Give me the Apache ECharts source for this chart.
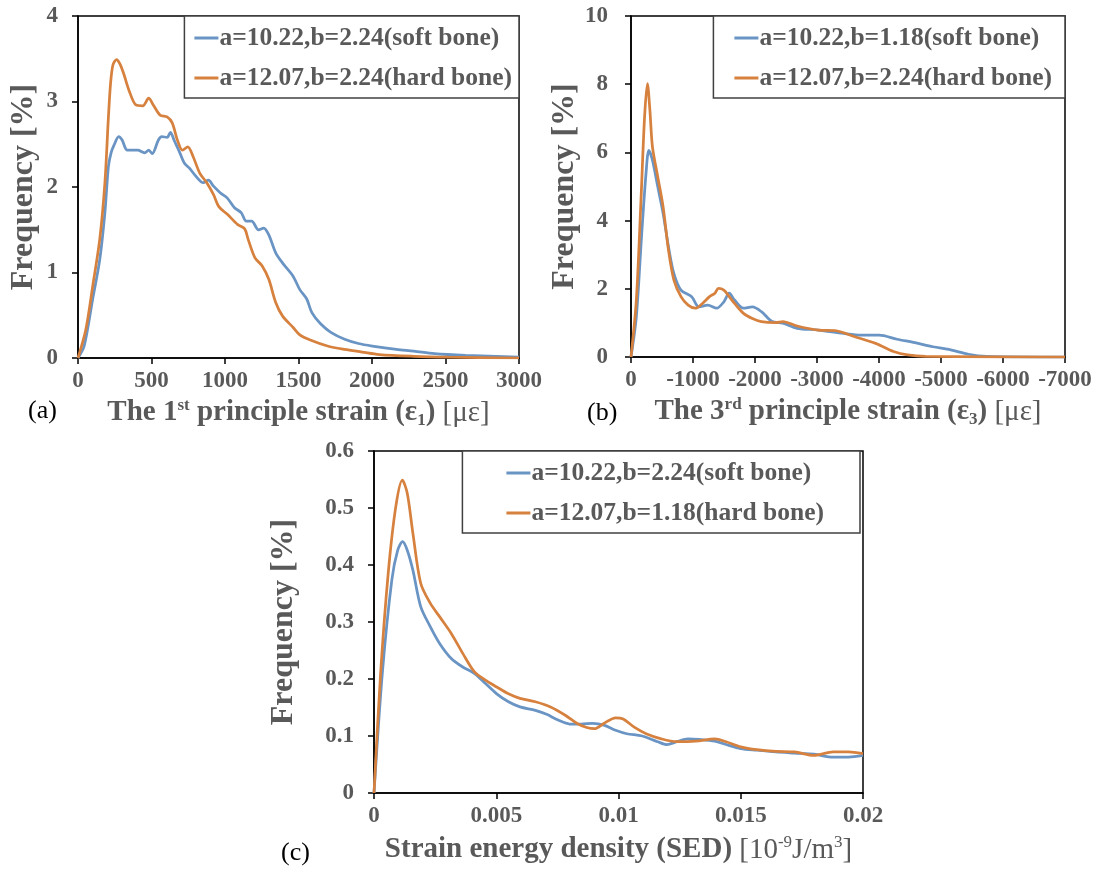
<!DOCTYPE html>
<html>
<head>
<meta charset="utf-8">
<script src="https://cdn.jsdelivr.net/npm/echarts@6/dist/echarts.min.js"></script>
<style>
  html, body { margin: 0; padding: 0; background: #fff; }
  #chart { width: 1099px; height: 871px; }
</style>
</head>
<body>
<div id="chart"></div>
<script>
// legend names
const namesA = ['a=10.22,b=2.24(soft bone)', 'a=12.07,b=2.24(hard bone)'];
const namesB = ['a=10.22,b=1.18(soft bone)', 'a=12.07,b=2.24(hard bone)'];
const namesC = ['a=10.22,b=2.24(soft bone)', 'a=12.07,b=1.18(hard bone)'];

// (a) 1st principle strain [με] vs frequency [%]
const softA = [[0,0],[42,0.14],[100,0.69],[148,1.15],[183,1.70],[207,2.24],[225,2.40],[245,2.49],[277,2.59],[300,2.55],[336,2.43],[406,2.43],[453,2.40],[481,2.43],[505,2.39],[547,2.55],[570,2.59],[606,2.58],[629,2.64],[653,2.55],[688,2.42],[723,2.28],[758,2.22],[805,2.12],[852,2.05],[887,2.08],[922,2.01],[969,1.93],[1016,1.87],[1063,1.76],[1110,1.70],[1145,1.60],[1181,1.60],[1228,1.50],[1263,1.52],[1298,1.44],[1345,1.23],[1392,1.11],[1462,0.96],[1509,0.80],[1556,0.69],[1591,0.53],[1650,0.40],[1720,0.30],[1814,0.22],[1908,0.17],[2002,0.14],[2166,0.10],[2284,0.08],[2425,0.05],[2636,0.03],[3000,0.01]];
const hardA = [[0,0],[54,0.34],[100,0.84],[148,1.39],[183,2.05],[207,2.82],[222,3.22],[238,3.43],[262,3.49],[285,3.44],[310,3.33],[347,3.13],[394,2.96],[441,2.95],[481,3.04],[512,2.96],[559,2.84],[606,2.82],[641,2.75],[676,2.55],[711,2.43],[747,2.47],[782,2.36],[829,2.16],[876,2.05],[922,1.91],[958,1.77],[1016,1.68],[1087,1.56],[1134,1.51],[1157,1.39],[1204,1.17],[1252,1.08],[1298,0.92],[1345,0.65],[1392,0.49],[1462,0.36],[1509,0.27],[1580,0.21],[1697,0.14],[1814,0.10],[1932,0.07],[2049,0.04],[2284,0.02],[2519,0.01],[3000,0]];

// (b) 3rd principle strain [με] vs frequency [%]
const softB = [[0,0],[-86,1.18],[-173,3.62],[-242,5.38],[-288,6.06],[-346,5.77],[-432,4.99],[-518,4.21],[-605,3.23],[-691,2.45],[-806,1.96],[-979,1.77],[-1094,1.47],[-1238,1.52],[-1382,1.43],[-1498,1.62],[-1584,1.87],[-1670,1.67],[-1814,1.43],[-1958,1.47],[-2103,1.33],[-2275,1.04],[-2448,0.99],[-2679,0.84],[-3024,0.79],[-3427,0.69],[-3715,0.64],[-4003,0.64],[-4291,0.52],[-4579,0.42],[-4867,0.30],[-5155,0.21],[-5443,0.08],[-5731,0.02],[-7000,0]];
const hardB = [[0,0],[-86,1.67],[-161,4.60],[-219,7.04],[-265,8.02],[-305,7.23],[-346,6.16],[-432,5.28],[-518,4.40],[-605,3.13],[-691,2.26],[-806,1.77],[-922,1.52],[-1037,1.43],[-1152,1.57],[-1267,1.77],[-1353,1.87],[-1411,2.01],[-1498,1.96],[-1584,1.77],[-1670,1.57],[-1814,1.28],[-1958,1.13],[-2103,1.04],[-2333,1.01],[-2448,1.04],[-2679,0.91],[-3024,0.79],[-3312,0.77],[-3600,0.60],[-3946,0.40],[-4234,0.16],[-4464,0.06],[-4752,0.02],[-7000,0]];

// (c) strain energy density vs frequency [%]
const softC = [[0,0],[0.00034,0.21],[0.00073,0.374],[0.00097,0.426],[0.00117,0.441],[0.00136,0.426],[0.00159,0.391],[0.00191,0.327],[0.0023,0.292],[0.00269,0.262],[0.00316,0.236],[0.00363,0.221],[0.0041,0.210],[0.00456,0.192],[0.00502,0.174],[0.0055,0.160],[0.00597,0.151],[0.0066,0.145],[0.00706,0.138],[0.00753,0.128],[0.008,0.121],[0.00847,0.121],[0.00894,0.122],[0.0094,0.119],[0.00988,0.110],[0.01034,0.104],[0.01097,0.100],[0.0116,0.090],[0.01198,0.085],[0.01238,0.090],[0.01284,0.095],[0.0133,0.094],[0.01394,0.091],[0.0144,0.085],[0.015,0.078],[0.01566,0.075],[0.01644,0.072],[0.0172,0.070],[0.018,0.068],[0.01878,0.063],[0.0194,0.063],[0.02,0.066]];
const hardC = [[0,0],[0.00027,0.21],[0.00058,0.385],[0.00089,0.502],[0.00116,0.549],[0.00136,0.526],[0.00159,0.456],[0.00191,0.368],[0.0023,0.333],[0.00269,0.309],[0.00316,0.280],[0.00363,0.245],[0.0041,0.213],[0.00456,0.198],[0.00502,0.186],[0.0055,0.174],[0.00597,0.166],[0.0066,0.160],[0.00722,0.151],[0.00784,0.136],[0.00831,0.122],[0.0087,0.115],[0.00902,0.113],[0.0094,0.122],[0.00988,0.132],[0.01019,0.130],[0.01066,0.115],[0.01113,0.104],[0.01175,0.095],[0.01238,0.090],[0.01316,0.091],[0.01394,0.095],[0.0144,0.090],[0.015,0.081],[0.01566,0.076],[0.01644,0.073],[0.0172,0.072],[0.018,0.066],[0.01878,0.072],[0.0194,0.072],[0.02,0.069]];

const BLUE = '#6994c3';
const ORANGE = '#d7813f';
const GRAY = '#595959';
const FONT = '"Liberation Serif", "Times New Roman", serif';

const nameRich = {
  sup: {fontSize: 17, fontWeight: 'bold', color: GRAY, fontFamily: FONT, verticalAlign: 'top', lineHeight: 16},
  sub: {fontSize: 17, fontWeight: 'bold', color: GRAY, fontFamily: FONT, verticalAlign: 'bottom', lineHeight: 16},
  r: {fontSize: 29, fontWeight: 'normal', color: GRAY, fontFamily: FONT, lineHeight: 32},
  rsup: {fontSize: 17, fontWeight: 'normal', color: GRAY, fontFamily: FONT, verticalAlign: 'top', lineHeight: 16}
};

const tickLabel = {fontFamily: FONT, fontSize: 23, fontWeight: 'bold', color: GRAY, formatter: v => String(v)};

function xAxis(gridIndex, opts) {
  return Object.assign({
    type: 'value',
    gridIndex: gridIndex,
    nameLocation: 'middle',
    nameTextStyle: {fontFamily: FONT, fontSize: 29, fontWeight: 'bold', color: GRAY, lineHeight: 32, rich: nameRich},
    axisLine: {onZero: false, lineStyle: {color: '#000', width: 1.5}},
    axisTick: {show: true, inside: false, length: 6, lineStyle: {color: '#000', width: 1.5}},
    axisLabel: Object.assign({margin: 12}, tickLabel),
    splitLine: {show: false}
  }, opts);
}

function yAxis(gridIndex, opts) {
  return Object.assign({
    type: 'value',
    gridIndex: gridIndex,
    name: 'Frequency [%]',
    nameLocation: 'middle',
    nameTextStyle: {fontFamily: FONT, fontSize: 32, fontWeight: 'bold', color: GRAY},
    axisLine: {show: true, onZero: false, lineStyle: {color: '#000', width: 1.5}},
    axisTick: {show: true, inside: false, length: 6, lineStyle: {color: '#000', width: 1.5}},
    axisLabel: Object.assign({margin: 20}, tickLabel),
    splitLine: {show: false}
  }, opts);
}

function line(name, data, color, idx) {
  return {
    name: name,
    type: 'line',
    xAxisIndex: idx,
    yAxisIndex: idx,
    data: data,
    smooth: 0.3,
    showSymbol: false,
    symbol: 'none',
    animation: false,
    lineStyle: {color: color, width: 2.75},
    itemStyle: {color: color},
    z: color === ORANGE ? 3 : 2
  };
}

function legend(names, right, top, padding) {
  return {
    data: names,
    orient: 'vertical',
    right: right,
    top: top,
    padding: padding,
    itemGap: 14,
    itemWidth: 24,
    itemHeight: 3,
    icon: 'rect',
    backgroundColor: '#fff',
    borderColor: '#404040',
    borderWidth: 1.5,
    selectedMode: false,
    textStyle: {fontFamily: FONT, fontSize: 25.5, fontWeight: 'bold', color: GRAY, lineHeight: 26, padding: [0, 0, 0, -4]}
  };
}

const labelStyle = {fontFamily: FONT, fontSize: 26, fill: '#000'};

const option = {
  backgroundColor: '#fff',
  animation: false,
  grid: [
    {left: 78, top: 16, width: 441, height: 342, show: true, borderColor: '#000', borderWidth: 1.5, backgroundColor: 'transparent'},
    {left: 631, top: 16, width: 434, height: 341, show: true, borderColor: '#000', borderWidth: 1.5, backgroundColor: 'transparent'},
    {left: 374, top: 451, width: 489, height: 342, show: true, borderColor: '#000', borderWidth: 1.5, backgroundColor: 'transparent'}
  ],
  xAxis: [
    xAxis(0, {min: 0, max: 3000, interval: 500, nameGap: 39,
      name: '{b|The 1}{sup|st}{b| principle strain (ε}{sub|1}{b|)} {r|[με]}'}),
    xAxis(1, {min: -7000, max: 0, interval: 1000, inverse: true, nameGap: 39,
      name: '{b|The 3}{sup|rd}{b| principle strain (ε}{sub|3}{b|)} {r|[με]}'}),
    xAxis(2, {min: 0, max: 0.02, interval: 0.005, nameGap: 41,
      name: '{b|Strain energy density (SED)} {r|[10}{rsup|-9}{r|J/m}{rsup|3}{r|]}'})
  ],
  yAxis: [
    yAxis(0, {min: 0, max: 4, interval: 1, nameGap: 38}),
    yAxis(1, {min: 0, max: 10, interval: 2, nameGap: 44, axisLabel: Object.assign({margin: 23}, tickLabel)}),
    yAxis(2, {min: 0, max: 0.6, interval: 0.1, nameGap: 74})
  ],
  legend: [
    legend(namesA, 1099 - 519, 16, [9, 7, 7, 10]),
    legend(namesB, 1099 - 1065, 16, [9, 13, 7, 21]),
    legend(namesC, 1099 - 860, 451, [9, 36, 7, 44])
  ],
  graphic: [
    {type: 'text', left: 28, top: 398, style: Object.assign({text: '(a)'}, labelStyle)},
    {type: 'text', left: 587, top: 400, style: Object.assign({text: '(b)'}, labelStyle)},
    {type: 'text', left: 281, top: 840, style: Object.assign({text: '(c)'}, labelStyle)}
  ],
  series: [
    line(namesA[0], softA, BLUE, 0),
    line(namesA[1], hardA, ORANGE, 0),
    line(namesB[0], softB, BLUE, 1),
    line(namesB[1], hardB, ORANGE, 1),
    line(namesC[0], softC, BLUE, 2),
    line(namesC[1], hardC, ORANGE, 2)
  ]
};

const chart = echarts.init(document.getElementById('chart'), null, {renderer: 'canvas'});
chart.setOption(option);
</script>
</body>
</html>
